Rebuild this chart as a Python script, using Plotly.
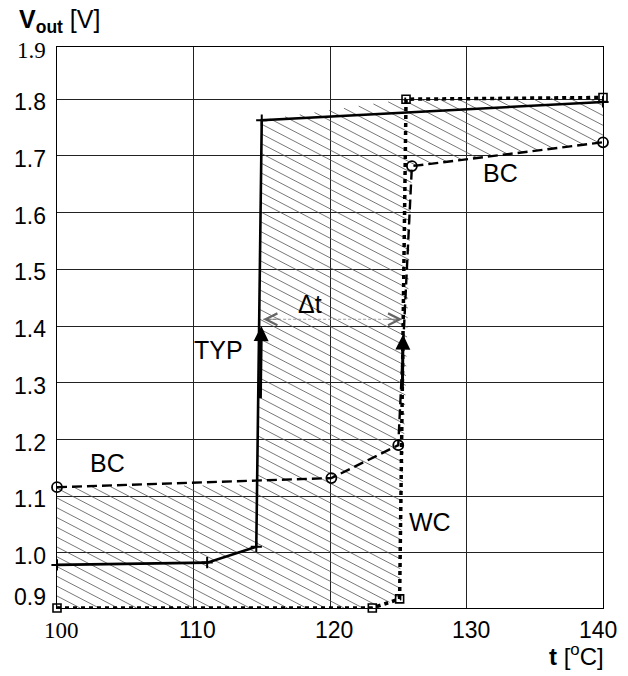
import numpy as np
import plotly.graph_objects as go

# ---------------- data ----------------
typ_t = [100.0, 111.0, 114.6, 115.0, 140.0]
typ_v = [0.979, 0.983, 1.011, 1.763, 1.795]

bc_t = [100.0, 120.1, 125.0, 126.0, 140.0]
bc_v = [1.116, 1.132, 1.190, 1.682, 1.724]

wc_t = [100.0, 123.1, 125.1, 125.57, 140.0]
wc_v = [0.903, 0.903, 0.919, 1.800, 1.803]

# hatched spread region (upper envelope then lower envelope)
band_t = [100.0, 114.66, 115.0, 125.57, 140.0, 140.0, 126.0, 125.1, 123.1, 100.0]
band_v = [1.116, 1.120, 1.763, 1.800, 1.803, 1.724, 1.682, 0.919, 0.903, 0.903]

x_ticks = [100, 110, 120, 130, 140]
x_tick_labels = ["100", "110", "120", "130", "140"]
y_ticks = [0.9, 1.0, 1.1, 1.2, 1.3, 1.4, 1.5, 1.6, 1.7, 1.8, 1.9]
y_tick_labels = ["0.9", "1.0", "1.1", "1.2", "1.3", "1.4", "1.5", "1.6", "1.7", "1.8", "1.9"]

# ---------------- layout geometry ----------------
W, H = 628, 676
ML, MR, MT, MB = 57, 25, 47, 68
X0, X1 = 100.0, 140.0
Y0, Y1 = 0.903, 1.892
SANS = "Liberation Sans, Arial, sans-serif"
SERIF = "Liberation Serif, Times New Roman, serif"

# ---------------- hatch lines clipped to the band polygon ----------------
sx = (W - ML - MR) / (X1 - X0)
sy = (H - MT - MB) / (Y1 - Y0)
px = (np.array(band_t) - X0) * sx
py = (Y1 - np.array(band_v)) * sy
slope, spacing, phase = 0.52, 9.8, 451.0
k = py - slope * px
cs = np.arange(phase - spacing * np.ceil((phase - k.min()) / spacing), k.max() + spacing, spacing)
hx, hy = [], []
n = len(px)
for c in cs:
    hits = []
    for i in range(n):
        xa, ya, xb, yb = px[i], py[i], px[(i + 1) % n], py[(i + 1) % n]
        fa, fb = ya - slope * xa - c, yb - slope * xb - c
        if (fa < 0) != (fb < 0):
            t = fa / (fa - fb)
            hits.append(xa + t * (xb - xa))
    hits.sort()
    for j in range(0, len(hits) - 1, 2):
        for xp in (hits[j], hits[j + 1]):
            hx.append(X0 + xp / sx)
            hy.append(Y1 - (slope * xp + c) / sy)
        hx.append(None)
        hy.append(None)

fig = go.Figure()
fig.add_trace(go.Scatter(x=hx, y=hy, mode="lines", line=dict(color="#555555", width=0.8),
                         hoverinfo="skip", showlegend=False))

fig.add_trace(go.Scatter(x=bc_t, y=bc_v, mode="lines+markers", cliponaxis=False,
                         line=dict(color="black", width=2.4, dash="10px,5px"),
                         marker=dict(symbol="circle-open", size=10, color="black", line=dict(width=1.8)),
                         showlegend=False))
fig.add_trace(go.Scatter(x=wc_t, y=wc_v, mode="lines+markers", cliponaxis=False,
                         line=dict(color="black", width=3.5, dash="4px,4px"),
                         marker=dict(symbol="square-open", size=8, color="black", line=dict(width=1.6)),
                         showlegend=False))
fig.add_trace(go.Scatter(x=typ_t, y=typ_v, mode="lines+markers", cliponaxis=False,
                         line=dict(color="black", width=2.6),
                         marker=dict(symbol="cross-thin", size=8, color="black", line=dict(width=2, color="black")),
                         showlegend=False))

ann = []
# y tick labels (placed in paper coordinates so the edge labels are kept)
for v, lab in zip(y_ticks, y_tick_labels):
    shift = -3
    if lab == "1.9":
        shift = -8
    elif lab == "0.9":
        shift = 13
    ann.append(dict(x=0, xref="paper", y=(v - Y0) / (Y1 - Y0), yref="paper", text=lab, showarrow=False,
                    xanchor="right", yanchor="middle", xshift=-9, yshift=shift,
                    font=dict(family=SERIF if lab == "1.9" else SANS, size=23, color="black")))
# x tick labels
for v, lab in zip(x_ticks, x_tick_labels):
    shift = -5 if lab == "140" else 4
    ann.append(dict(x=(v - X0) / (X1 - X0), xref="paper", y=0, yref="paper", text=lab, showarrow=False,
                    xanchor="center", yanchor="middle", xshift=shift, yshift=-22,
                    font=dict(family=SERIF if lab == "100" else SANS, size=23, color="black")))

# axis titles
ann.append(dict(x=-0.074, xref="paper", y=1.046, yref="paper", xanchor="left", yanchor="middle",
                text="<b>V<sub>out</sub></b> [V]", showarrow=False,
                font=dict(family=SANS, size=25, color="black")))
ann.append(dict(x=1.006, xref="paper", y=-0.084, yref="paper", xanchor="right", yanchor="middle",
                text="<b>t</b> [<sup>o</sup>C]", showarrow=False,
                font=dict(family=SANS, size=24, color="black")))

# series labels
for tx, ty, s in [(103.7, 1.159, "BC"), (132.5, 1.670, "BC"), (111.8, 1.358, "TYP"),
                  (127.3, 1.055, "WC"), (118.5, 1.439, "Δt")]:
    ann.append(dict(x=tx, y=ty, xref="x", yref="y", text=s, showarrow=False,
                    xanchor="center", yanchor="middle",
                    font=dict(family=SANS, size=25, color="black")))

# thick up arrows
ann.append(dict(x=114.97, y=1.400, xref="x", yref="y", ax=114.9, ay=1.27, axref="x", ayref="y",
                text="", showarrow=True, arrowhead=2, arrowwidth=3, arrowsize=1.0, arrowcolor="black"))
ann.append(dict(x=125.35, y=1.385, xref="x", yref="y", ax=125.3, ay=1.287, axref="x", ayref="y",
                text="", showarrow=True, arrowhead=2, arrowwidth=3, arrowsize=1.0, arrowcolor="black"))

# delta-t dimension arrows
ann.append(dict(x=115.1, y=1.412, xref="x", yref="y", ax=18, ay=0, text="", showarrow=True,
                arrowhead=5, arrowwidth=0.7, arrowsize=3.3, arrowcolor="#666666"))
ann.append(dict(x=125.3, y=1.412, xref="x", yref="y", ax=-18, ay=0, text="", showarrow=True,
                arrowhead=5, arrowwidth=0.7, arrowsize=3.3, arrowcolor="#666666"))

shapes = [dict(type="line", x0=115.1, x1=125.3, y0=1.412, y1=1.412, xref="x", yref="y",
               line=dict(color="#888888", width=0.8, dash="3px,2px"))]

fig.update_layout(
    width=W, height=H, autosize=False,
    margin=dict(l=ML, r=MR, t=MT, b=MB, pad=0),
    paper_bgcolor="white", plot_bgcolor="white",
    annotations=ann, shapes=shapes, showlegend=False,
    xaxis=dict(range=[X0, X1], tickvals=[110, 120, 130], showticklabels=False, ticks="",
               showgrid=True, gridcolor="#222222", gridwidth=1, zeroline=False,
               showline=True, mirror=True, linecolor="black", linewidth=1.3, fixedrange=True),
    yaxis=dict(range=[Y0, Y1], tickvals=[1.0, 1.1, 1.2, 1.3, 1.4, 1.5, 1.6, 1.7, 1.8],
               showticklabels=False, ticks="",
               showgrid=True, gridcolor="#222222", gridwidth=1, zeroline=False,
               showline=True, mirror=True, linecolor="black", linewidth=1.3, fixedrange=True),
)

fig.write_html("out.html", config={"displayModeBar": False},
               post_script="document.body.style.margin='0';document.body.style.padding='0';")
